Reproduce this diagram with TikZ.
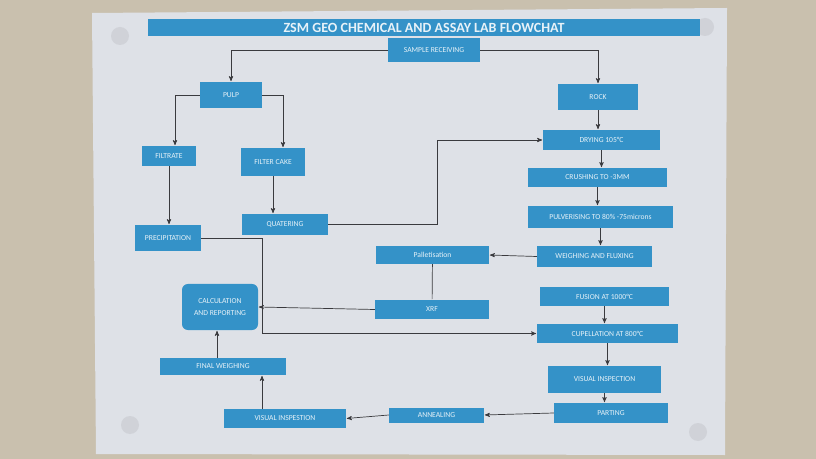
\documentclass[tikz,border=0pt]{standalone}
\usepackage{fontspec}
\setmainfont{Carlito}
\usetikzlibrary{arrows}
\definecolor{wall}{RGB}{201,192,174}
\definecolor{paper}{RGB}{222,225,231}
\definecolor{boxblue}{RGB}{52,146,200}
\definecolor{linegray}{RGB}{58,58,62}
\definecolor{pinshade}{RGB}{208,210,216}

\begin{document}
\begin{tikzpicture}[x=0.03cm,y=-0.03cm,>=stealth',shorten >=0.5pt,
  box/.style={rectangle,fill=boxblue,text=white!88!boxblue,inner sep=1pt,
    font=\fontsize{6.5}{7.5}\selectfont,align=center},
  wire/.style={color=linegray,line width=0.6pt}]

  % wall, sheet and pins
  \fill[wall] (0,0) rectangle (816,459);
  \fill[paper] (92,13) -- (727,8) -- (725,455) -- (96,454) -- cycle;
  \foreach \px/\py in {120/36,705/27,130/425,698/432}
    \fill[pinshade] (\px,\py) circle[radius=9];

  \node[box,minimum width=16.56cm,minimum height=0.51cm,
    font=\bfseries\fontsize{12}{13}\selectfont] (title) at (424,27.5)
    {ZSM GEO CHEMICAL AND ASSAY LAB FLOWCHAT};

  \node[box,minimum width=2.76cm,minimum height=0.72cm] (samp) at (434,50) {SAMPLE RECEIVING};
  \node[box,minimum width=1.86cm,minimum height=0.78cm] (pulp) at (231,95) {PULP};
  \node[box,minimum width=2.4cm,minimum height=0.78cm] (rock) at (598,97) {ROCK};
  \node[box,minimum width=1.62cm,minimum height=0.6cm] (filtrate) at (169,156) {FILTRATE};
  \node[box,minimum width=1.92cm,minimum height=0.84cm] (fcake) at (273,162) {FILTER CAKE};
  \node[box,minimum width=3.51cm,minimum height=0.6cm] (drying) at (601.5,140) {DRYING 105\textdegree C};
  \node[box,minimum width=4.17cm,minimum height=0.57cm] (crush) at (597.5,177.5) {CRUSHING TO -3MM};
  \node[box,minimum width=4.35cm,minimum height=0.66cm] (pulv) at (600.5,217) {PULVERISING TO 80\% -75microns};
  \node[box,minimum width=2.58cm,minimum height=0.63cm] (quat) at (285,224.5) {QUATERING};
  \node[box,minimum width=1.98cm,minimum height=0.78cm] (precip) at (168,238) {PRECIPITATION};
  \node[box,minimum width=3.39cm,minimum height=0.54cm] (pallet) at (432.5,255) {Palletisation};
  \node[box,minimum width=3.45cm,minimum height=0.63cm] (weigh) at (594.5,256.5) {WEIGHING AND FLUXING};
  \node[box,rounded corners=5pt,minimum width=2.28cm,minimum height=1.38cm] (calc) at (220,307)
    {CALCULATION\\[2pt]AND REPORTING};
  \node[box,minimum width=3.42cm,minimum height=0.57cm] (xrf) at (432,309.5) {XRF};
  \node[box,minimum width=3.87cm,minimum height=0.57cm] (fusion) at (604.5,296.5) {FUSION AT 1000\textdegree C};
  \node[box,minimum width=4.23cm,minimum height=0.57cm] (cupel) at (607.5,333.5) {CUPELLATION AT 800\textdegree C};
  \node[box,minimum width=3.78cm,minimum height=0.51cm] (fweigh) at (223,366.5) {FINAL WEIGHING};
  \node[box,minimum width=3.39cm,minimum height=0.81cm] (vis1) at (604.5,379.5) {VISUAL INSPECTION};
  \node[box,minimum width=3.42cm,minimum height=0.6cm] (parting) at (611,413) {PARTING};
  \node[box,minimum width=2.85cm,minimum height=0.45cm] (anneal) at (436.5,415) {ANNEALING};
  \node[box,minimum width=3.66cm,minimum height=0.57cm] (vis2) at (285,418.5) {VISUAL INSPESTION};

  \coordinate (v2up) at (262,409);
  \coordinate (fwup) at (217,358);

  \draw[wire,->] (samp.west) -| (pulp.north);
  \draw[wire,->] (samp.east) -| (rock.north);
  \draw[wire,->] (pulp.west) -| ([xshift=0.18cm]filtrate.north);
  \draw[wire,->] (pulp.east) -| ([xshift=0.3cm]fcake.north);
  \draw[wire,->] (quat.east) -- ++(109,0) |- (drying.west);
  \draw[wire,->] (precip.east) -- ++(61,0) |- (cupel.west);
  \draw[wire,->] (fwup) -- (fwup |- calc.south);

  \path[wire,->]
    (rock.south) edge (rock.south |- drying.north)
    (drying.south) edge (drying.south |- crush.north)
    (crush.south) edge (crush.south |- pulv.north)
    (pulv.south) edge (pulv.south |- weigh.north)
    (filtrate.south) edge (filtrate.south |- precip.north)
    (fcake.south) edge (fcake.south |- quat.north)
    (weigh.west) edge (pallet.east)
    (xrf.west) edge (calc.east)
    (fusion.south) edge (fusion.south |- cupel.north)
    (cupel.south) edge (cupel.south |- vis1.north)
    (vis1.south) edge (vis1.south |- parting.north)
    (parting.west) edge (anneal.east)
    (anneal.west) edge (vis2.east)
    (v2up) edge (v2up |- fweigh.south);
  \path[wire] (pallet) edge (xrf);

\end{tikzpicture}
\end{document}
